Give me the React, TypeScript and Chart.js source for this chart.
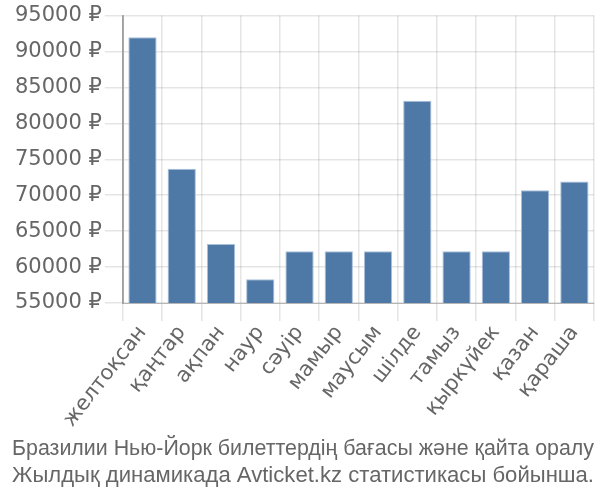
import React, { useEffect, useRef } from "react";
import { Chart, registerables } from "chart.js";

Chart.register(...registerables);

const categories = ["желтоқсан", "қаңтар", "ақпан", "наур", "сәуір", "мамыр", "маусым", "шілде", "тамыз", "қыркүйек", "қазан", "қараша"];
const prices = [92000, 73700, 63200, 58300, 62200, 62200, 62200, 83150, 62200, 62200, 70700, 71900];
const titleLines = ["Бразилии Нью-Йорк билеттердің бағасы және қайта оралу", "Жылдық динамикада Avticket.kz статистикасы бойынша."];

const tickFont = { family: "'DejaVu Sans', sans-serif", size: 21 };

export default function App() {
  const ref = useRef<HTMLCanvasElement>(null);
  useEffect(() => {
    document.body.style.margin = "0";
    const ctx = ref.current!;
    const chart = new Chart(ctx, {
      type: "bar",
      data: {
        labels: categories,
        datasets: [
          {
            data: prices,
            backgroundColor: "#4e79a7",
            borderColor: "rgba(160,185,215,0.9)",
            borderWidth: 1,
          },
        ],
      },
      options: {
        animation: false,
        responsive: false,
        layout: { padding: { left: 12, right: 6, top: 4, bottom: 11 } },
        plugins: {
          legend: { display: false },
          tooltip: { enabled: false },
          title: {
            display: true,
            position: "bottom",
            text: titleLines,
            color: "#666",
            font: { family: "'Liberation Sans', Arial, sans-serif", size: 22.5, weight: "normal" },
            padding: { top: 3, bottom: 0 },
          },
        },
        scales: {
          x: {
            grid: { color: "rgba(0,0,0,0.1)", lineWidth: 1.5, tickLength: 18, offset: true },
            border: { color: "rgba(0,0,0,0.25)" },
            ticks: {
              color: "#666",
              font: tickFont,
              maxRotation: 52,
              minRotation: 52,
              padding: 0,
            },
          },
          y: {
            min: 55000,
            max: 95000,
            grid: { color: "rgba(0,0,0,0.1)", lineWidth: 1.5, tickLength: 18 },
            border: { color: "rgba(0,0,0,0.3)", width: 2 },
            ticks: {
              stepSize: 5000,
              color: "#666",
              font: tickFont,
              padding: 3,
              callback: (v: any) => v + " ₽",
            },
          },
        },
      },
    });
    return () => chart.destroy();
  }, []);
  return (
    <div style={{ width: 600, height: 500 }}>
      <canvas ref={ref} width={600} height={500} style={{ display: "block" }} />
    </div>
  );
}
